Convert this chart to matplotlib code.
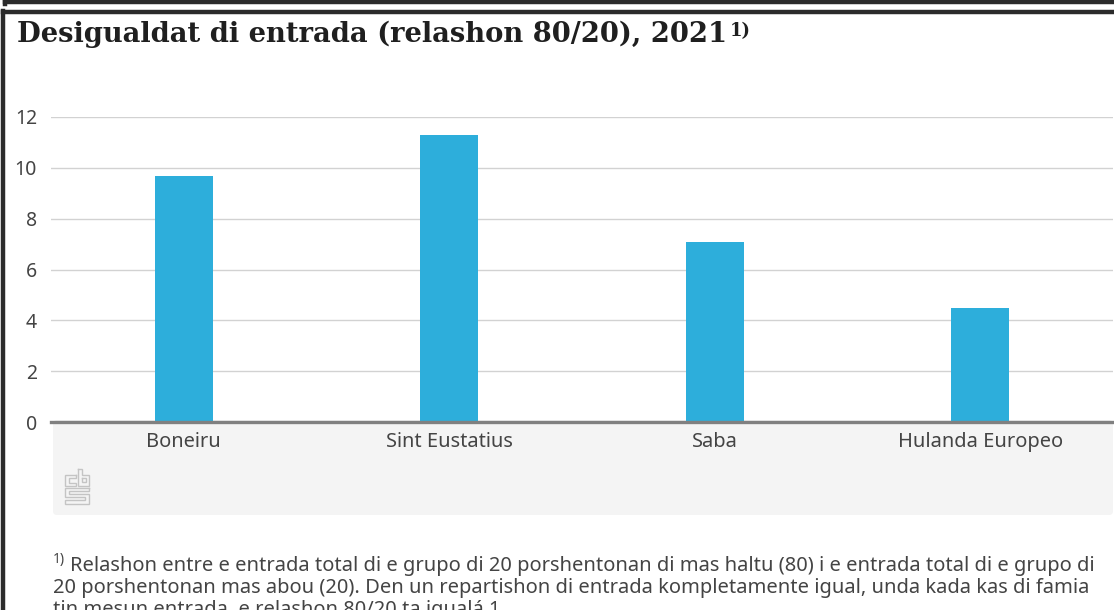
# Desigualdat di entrada chart (CBS style)

import matplotlib
matplotlib.use("Agg")
import matplotlib.pyplot as plt
from matplotlib.patches import FancyBboxPatch

categories = ["Boneiru", "Sint Eustatius", "Saba", "Hulanda Europeo"]
values = [9.69, 11.28, 7.08, 4.47]
y_ticks = [0, 2, 4, 6, 8, 10, 12]

title = "Desigualdat di entrada (relashon 80/20), 2021"
note_lines = [
    "Relashon entre e entrada total di e grupo di 20 porshentonan di mas haltu (80) i e entrada total di e grupo di",
    "20 porshentonan mas abou (20). Den un repartishon di entrada kompletamente igual, unda kada kas di famia",
    "tin mesun entrada, e relashon 80/20 ta igualá 1.",
]

W, H = 1114, 610
bar_color = "#2daedb"
text_color = "#444444"

plt.rcParams["font.family"] = ["Noto Sans", "DejaVu Sans"]

fig = plt.figure(figsize=(W / 100, H / 100), dpi=100)

# background layer in pixel coordinates
bg = fig.add_axes([0, 0, 1, 1], zorder=0)
bg.set_xlim(0, W)
bg.set_ylim(H, 0)
bg.axis("off")

# dark frame
frame = "#2b2b2b"
bg.plot([5, W], [2, 2], color=frame, lw=3.2)
bg.plot([5, 5], [0, 4], color=frame, lw=3.2)
bg.plot([2.5, W], [12, 12], color=frame, lw=3.2)
bg.plot([3, 3], [11, H], color=frame, lw=3.2)

# grey panel under the axis
panel = FancyBboxPatch((56, 423), W - 60, 89, boxstyle="round,pad=3,rounding_size=4",
                       fc="#f4f4f4", ec="none")
bg.add_patch(panel)

# cbs logo
logo = "#c4c4c4"
logo_parts = [
    ([76, 65, 65, 76, 76, 69, 69, 76, 76], [475, 475, 486, 486, 483, 483, 478, 478, 475]),
    ([78, 82, 82, 89, 89, 78, 78], [469, 469, 475, 475, 486, 486, 469]),
    ([82, 86, 86, 82, 82], [478, 478, 482, 482, 478]),
    ([89, 65, 65, 85, 85, 65, 65, 89, 89, 69, 69, 89, 89],
     [488, 488, 497, 497, 500, 500, 503.5, 503.5, 494, 494, 491, 491, 488]),
]
for xs, ys in logo_parts:
    bg.plot(xs, ys, color=logo, lw=1.0, solid_joinstyle="miter")

# title
bg.text(17, 34, title, family="DejaVu Serif", fontsize=19.7, fontweight="bold",
        color="#1f1f1f", va="center", ha="left")
bg.text(730, 31, "1)", family="DejaVu Serif", fontsize=13, fontweight="bold",
        color="#1f1f1f", va="center", ha="left")

# footnote
bg.text(53, 560, "1)", fontsize=10, fontweight="bold", color=text_color, va="center", ha="left")
note_y = [566, 588, 610]
for i, line in enumerate(note_lines):
    bg.text(70 if i == 0 else 53, note_y[i], line, fontsize=14.45, color=text_color,
            va="center", ha="left")

# chart axes, 0 at y=422 and 12 at y=117
ax = fig.add_axes([51 / W, 1 - 422 / H, (W - 52) / W, (422 - 117) / H], zorder=1)
ax.patch.set_alpha(0)
x = list(range(len(categories)))
ax.bar(x, values, width=0.219, color=bar_color, zorder=3)
ax.set_xlim(-0.5, 3.5)
ax.set_ylim(0, 12)
ax.set_yticks(y_ticks)
ax.set_xticks(x)
ax.set_xticklabels(categories)
ax.grid(axis="y", color="#d2d2d2", lw=1, zorder=1)
ax.tick_params(axis="both", length=0, labelcolor=text_color)
ax.tick_params(axis="y", pad=10, labelsize=14)
ax.tick_params(axis="x", pad=7, labelsize=14.4)
for s in ["top", "left", "right"]:
    ax.spines[s].set_visible(False)
ax.spines["bottom"].set_color("#808080")
ax.spines["bottom"].set_linewidth(2.4)
ax.spines["bottom"].set_zorder(4)

plt.savefig("out.png", dpi=100)
